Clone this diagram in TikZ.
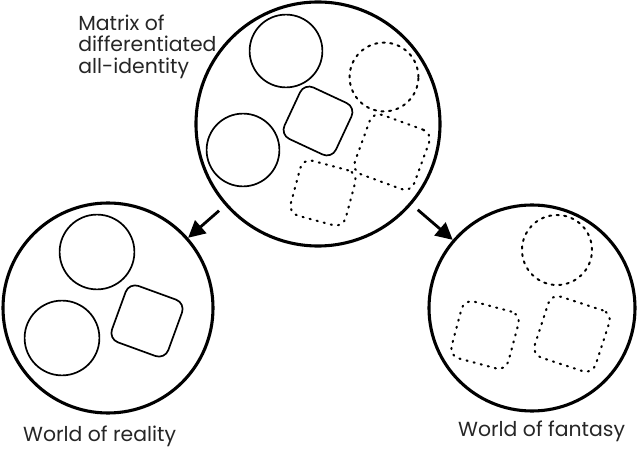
\documentclass[tikz,border=0pt]{standalone}
\usepackage{fontspec}
\setmainfont{Poppins}
\usetikzlibrary{arrows.meta}

\tikzset{
  world/.style={circle, draw, line width=2.2pt, inner sep=0pt},
  thing/.style={circle, draw, line width=1.2pt, inner sep=0pt},
  wish/.style={thing, line width=1.4pt, line cap=round, dash pattern=on 1.6pt off 3.8pt},
  block/.style={rectangle, draw, line width=1.2pt, rounded corners=0.25cm, inner sep=0pt},
  dream/.style={block, line width=1.5pt, line cap=round, dash pattern=on 0.8pt off 4.4pt},
  push/.style={-{Triangle[length=12pt,width=12pt]}, line width=2pt, shorten <=0.2cm},
  tag/.style={text=black!85, inner sep=0pt, font=\fontsize{14.5}{15}\selectfont}
}

\begin{document}
\begin{tikzpicture}
  \useasboundingbox (0,0) rectangle (15.925,11.225);
  % the three worlds
  \node[world, minimum size=6.1cm] (matrix) at (7.95,8.125) {};
  \node[world, minimum size=5.25cm] (reality) at (2.7,3.525) {};
  \node[world, minimum size=5.15cm] (fantasy) at (13.3,3.525) {};
  % inside the matrix
  \node[thing, minimum size=1.82cm] (m1) at (7.15,9.95) {};
  \node[thing, minimum size=1.82cm] (m2) at (6.075,7.475) {};
  \node[wish, minimum size=1.72cm] (m3) at (9.6,9.3) {};
  \node[block, minimum size=1.42cm, rotate=-25] (m4) at (7.95,8.2) {};
  \node[dream, minimum size=1.58cm, rotate=-20] (m5) at (9.8,7.425) {};
  \node[dream, minimum size=1.42cm, rotate=-15] (m6) at (8.075,6.4) {};
  % inside reality
  \node[thing, minimum size=1.87cm] (r1) at (2.425,4.925) {};
  \node[thing, minimum size=1.87cm] (r2) at (1.55,2.775) {};
  \node[block, minimum size=1.5cm, rotate=-20] (r3) at (3.675,3.2) {};
  % inside fantasy
  \node[wish, minimum size=1.75cm] (f1) at (13.925,4.975) {};
  \node[dream, minimum size=1.47cm, rotate=-15] (f2) at (12.125,2.85) {};
  \node[dream, minimum size=1.6cm, rotate=-18] (f3) at (14.3,2.875) {};
  % arrows
  \draw[push] (matrix) -- (reality);
  \draw[push] (matrix) -- (fantasy);
  % labels
  \node[tag, anchor=north west, align=left] (matrixtext) at (1.95,10.85)
    {Matrix of\\differentiated\\all-identity};
  \node[tag, anchor=base] (realitytext) at (2.49,0.175) {World of reality};
  \node[tag, anchor=base] (fantasytext) at (13.54,0.3) {World of fantasy};
\end{tikzpicture}
\end{document}
